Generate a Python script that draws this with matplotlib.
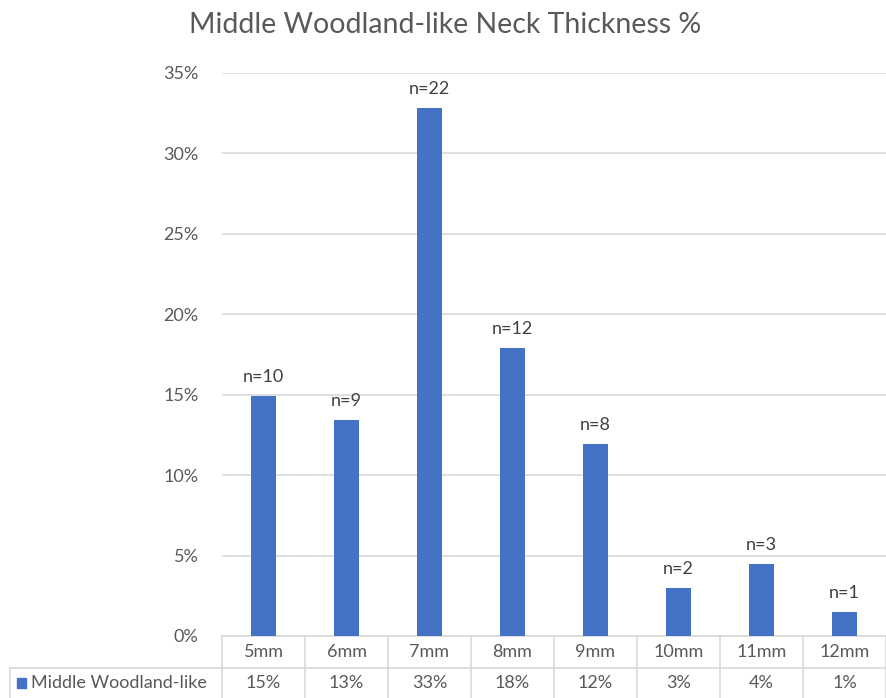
import matplotlib
matplotlib.use("Agg")
import matplotlib.pyplot as plt
from matplotlib.transforms import blended_transform_factory
from matplotlib.patches import Rectangle

plt.rcParams['font.family'] = ['Lato', 'DejaVu Sans']

categories = ["5mm", "6mm", "7mm", "8mm", "9mm", "10mm", "11mm", "12mm"]
counts = [10, 9, 22, 12, 8, 2, 3, 1]
series_name = "Middle Woodland-like"
title = "Middle Woodland-like Neck Thickness %"
y_ticks = [0, 0.05, 0.10, 0.15, 0.20, 0.25, 0.30, 0.35]

total = sum(counts)
shares = [c / total for c in counts]

W, H = 886, 698
fig = plt.figure(figsize=(W / 100, H / 100), dpi=100)

left_px, right_px, top_px, base_px = 222, 886, 73, 636
ax = fig.add_axes([left_px / W, (H - base_px) / H,
                   (right_px - left_px) / W, (base_px - top_px) / H])

bar_color = "#4472C4"
grid_color = "#D9D9D9"
text_color = "#595959"
fs = 13

x = list(range(len(categories)))
ax.bar(x, shares, width=0.31, color=bar_color, zorder=3)
for xi, s, c in zip(x, shares, counts):
    ax.annotate(f"n={c}", (xi, s), xytext=(0, 8), textcoords="offset points",
                ha="center", va="bottom", fontsize=fs, color="#404040")

ax.set_xlim(-0.5, len(categories) - 0.5)
ax.set_ylim(0, 0.35)
ax.set_yticks(y_ticks)
ax.set_yticklabels([f"{int(round(t * 100))}%" for t in y_ticks])
ax.tick_params(axis="y", length=0, pad=17, labelsize=fs, labelcolor=text_color)
ax.set_xticks([])
ax.grid(axis="y", color=grid_color, linewidth=1.2, zorder=0)
for sp in ax.spines.values():
    sp.set_visible(False)

# Data table below the plot
ax_h = base_px - top_px
row1 = 32 / ax_h
row2 = 62 / ax_h
tr = blended_transform_factory(ax.transData, ax.transAxes)
line_kw = dict(color=grid_color, linewidth=1.2, clip_on=False, zorder=1)

ax.plot([-0.5, len(categories) - 0.5], [0, 0], transform=tr, **line_kw)
for b in range(len(categories) + 1):
    ax.plot([b - 0.5, b - 0.5], [0, -row2], transform=tr, **line_kw)

fig_line_y = (H - 668) / H
fig.add_artist(plt.Line2D([10 / W, 1], [fig_line_y, fig_line_y],
                          color=grid_color, linewidth=1.2))
fig.add_artist(plt.Line2D([10 / W, 10 / W], [0, fig_line_y],
                          color=grid_color, linewidth=1.2))

for xi, cat, s in zip(x, categories, shares):
    ax.text(xi, -row1 / 2, cat, transform=tr, ha="center", va="center",
            fontsize=fs, color=text_color)
    ax.text(xi, -(row1 + row2) / 2, f"{s:.0%}", transform=tr, ha="center",
            va="center", fontsize=fs, color=text_color)

# Legend key in the table's row header
fig.add_artist(Rectangle((17 / W, (H - 688) / H), 9 / W, 10 / H,
                         color=bar_color, transform=fig.transFigure))
fig.text(31 / W, (H - 683) / H, series_name, ha="left", va="center",
         fontsize=fs, color=text_color)

fig.text(445 / W, (H - 25) / H, title, ha="center", va="center",
         fontsize=20.5, color=text_color)

fig.savefig("out.png", dpi=100)
